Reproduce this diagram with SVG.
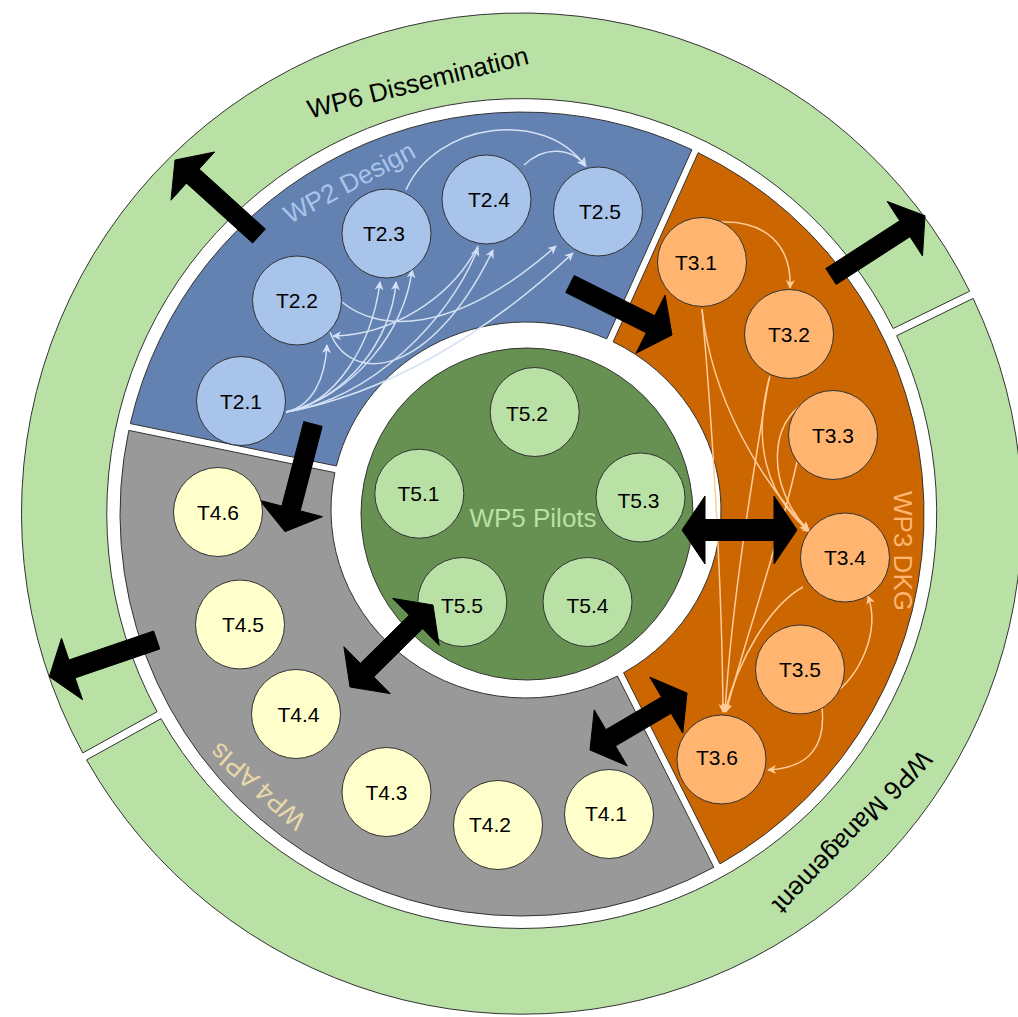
<svg xmlns="http://www.w3.org/2000/svg" width="1018" height="1017" viewBox="0 0 1018 1017">
<defs>
<style>
.ring{fill:#B9E0A5;stroke:#333;stroke-width:1}
.s2{fill:#6382B2;stroke:#333;stroke-width:1}
.s3{fill:#CC6600;stroke:#333;stroke-width:1}
.s4{fill:#999999;stroke:#333;stroke-width:1}
.s5{fill:#679152;stroke:#333;stroke-width:1}
.n2{fill:#A9C4EB;stroke:#333;stroke-width:1}
.n3{fill:#FFB570;stroke:#333;stroke-width:1}
.n4{fill:#FFFFCC;stroke:#333;stroke-width:1}
.n5{fill:#B9E0A5;stroke:#333;stroke-width:1}
text{font-family:"Liberation Sans",Arial,Helvetica,sans-serif}
.t{font-size:21px;fill:#000;text-anchor:middle}
.wp{font-size:26px;text-anchor:middle}
.c2{fill:none;stroke:#D4E1F5;stroke-width:1.5;marker-end:url(#mb)}
.c3{fill:none;stroke:#FFCC99;stroke-width:1.5;marker-end:url(#mo)}
.big{fill:#000;stroke:#000;stroke-width:1;stroke-linejoin:miter}
</style>
<marker id="mb" viewBox="0 0 10 10" refX="9" refY="5" markerWidth="10" markerHeight="9" markerUnits="userSpaceOnUse" orient="auto"><path d="M0,0 L10,5 L0,10 L3,5 Z" fill="#D4E1F5"/></marker>
<marker id="mo" viewBox="0 0 10 10" refX="9" refY="5" markerWidth="10" markerHeight="9" markerUnits="userSpaceOnUse" orient="auto"><path d="M0,0 L10,5 L0,10 L3,5 Z" fill="#FFCC99"/></marker>
</defs>
<rect width="1018" height="1017" fill="#fff"/>

<g id="wp6-dissemination">
<path class="ring" d="M 82.8 752.9 A 500 500 0 1 1 969.6 291.2 L 893.2 328.5 A 415 415 0 1 0 157.1 711.7 Z"/>
<text class="wp" fill="#000" transform="translate(420 91) rotate(-14)">WP6 Dissemination</text>
</g>
<g id="wp6-management">
<path class="ring" d="M 973.1 298.4 A 500 500 0 0 1 86.6 759.9 L 161.0 718.7 A 415 415 0 0 0 896.7 335.7 Z"/>
<text class="wp" fill="#000" transform="translate(846 826) rotate(134)">WP6 Management</text>
</g>
<g id="wp2-design">
<path class="s2" d="M 130.3 423.6 A 402 402 0 0 1 691.9 149.7 L 606.74 338.87 A 195 188 0 0 0 336.42 465.99 Z"/>
<text class="wp" fill="#A9C4EB" transform="translate(353.5 190.4) rotate(-28)">WP2 Design</text>
</g>
<g id="wp3-dkg">
<path class="s3" d="M 698.2 152.7 A 402 402 0 0 1 720.0 863.9 L 623.62 672.75 A 195 188 0 0 0 613.14 341.82 Z"/>
<text class="wp" fill="#FFB570" transform="translate(894 551) rotate(90)">WP3 DKG</text>
</g>
<g id="wp4-apis">
<path class="s4" d="M 713.8 867.3 A 402 402 0 0 1 128.8 430.4 L 334.89 472.65 A 195 188 0 0 0 617.43 676.05 Z"/>
<text class="wp" fill="#EAD8A8" transform="translate(263.5 779.5) rotate(221)">WP4 APIs</text>
</g>
<g id="wp5-pilots">
<circle class="s5" cx="527" cy="514" r="166"/>
<text class="wp" fill="#B9E0A5" x="533" y="527">WP5 Pilots</text>
</g>

<g id="connectors">
<path class="c2" d="M 406 190 C 436 122, 545 108, 585 166"/>
<path class="c2" d="M 524 165 C 545 145, 572 148, 586 166"/>
<path class="c2" d="M 286 412 C 312 406, 325 380, 327 345"/>
<path class="c2" d="M 286 412 C 335 405, 372 345, 380 282"/>
<path class="c2" d="M 286 412 C 345 400, 392 340, 396 282"/>
<path class="c2" d="M 286 412 C 355 395, 405 330, 412 270"/>
<path class="c2" d="M 286 412 C 370 400, 450 320, 478 248"/>
<path class="c2" d="M 330 332 C 350 385, 430 380, 493 250"/>
<path class="c2" d="M 286 412 C 380 395, 480 340, 573 253"/>
<path class="c2" d="M 342 302 C 375 330, 450 340, 556 246"/>
<path class="c2" d="M 478 246 C 450 300, 390 335, 333 336"/>

<path class="c3" d="M 720 222 C 765 220, 792 245, 790 288"/>
<path class="c3" d="M 702 309 C 712 400, 760 480, 809 531"/>
<path class="c3" d="M 702 309 C 712 420, 722 580, 723 712"/>
<path class="c3" d="M 770 376 C 752 440, 765 495, 810 532"/>
<path class="c3" d="M 769 378 C 752 480, 732 600, 725 712"/>
<path class="c3" d="M 806 403 C 770 420, 765 485, 808 530"/>
<path class="c3" d="M 797 462 C 780 540, 745 640, 726 712"/>
<path class="c3" d="M 803 587 C 770 605, 738 660, 725 712"/>
<path class="c3" d="M 830 697 C 862 675, 880 630, 868 596"/>
<path class="c3" d="M 822 708 C 826 745, 810 768, 768 770"/>

<polygon class="big" points="265.37,228.96 199.17,169.06 214.60,152.00 175,160 171.00,200.20 186.43,183.14 252.63,243.04"/>
<polygon class="big" points="565.75,292.50 646.28,332.77 636.00,353.34 672,335 665.06,295.20 654.78,315.77 574.25,275.50"/>
<polygon class="big" points="303.81,421.61 281.85,506.08 259.59,500.29 285,531.7 322.49,516.65 300.23,510.86 322.19,426.39"/>
<polygon class="big" points="836.16,284.48 910.01,236.71 922.50,256.02 925,215.7 887.20,201.44 899.69,220.75 825.84,268.52"/>
<polygon class="big" points="153.63,631.01 68.94,659.95 61.50,638.19 49.3,676.7 82.52,699.69 75.08,677.93 159.77,648.99"/>
</g>

<g id="T2.1"><circle class="n2" cx="241" cy="401" r="44.5"/><text class="t" x="241" y="408.5">T2.1</text></g>
<g id="T2.2"><circle class="n2" cx="297" cy="300.5" r="44.5"/><text class="t" x="297" y="308">T2.2</text></g>
<g id="T2.3"><circle class="n2" cx="386.5" cy="233.5" r="44.5"/><text class="t" x="384" y="241">T2.3</text></g>
<g id="T2.4"><circle class="n2" cx="486.5" cy="199.5" r="44.5"/><text class="t" x="489" y="207">T2.4</text></g>
<g id="T2.5"><circle class="n2" cx="598" cy="211.5" r="44.5"/><text class="t" x="600" y="219">T2.5</text></g>

<g id="T3.1"><circle class="n3" cx="702" cy="262" r="44.5"/><text class="t" x="696" y="269.5">T3.1</text></g>
<g id="T3.2"><circle class="n3" cx="789" cy="334" r="44.5"/><text class="t" x="789" y="341.5">T3.2</text></g>
<g id="T3.3"><circle class="n3" cx="833" cy="435" r="44.5"/><text class="t" x="833" y="442.5">T3.3</text></g>
<g id="T3.4"><circle class="n3" cx="845" cy="557.5" r="44.5"/><text class="t" x="845" y="565">T3.4</text></g>
<g id="T3.5"><circle class="n3" cx="800" cy="669.5" r="44.5"/><text class="t" x="800" y="677">T3.5</text></g>
<g id="T3.6"><circle class="n3" cx="721.5" cy="759.5" r="44.5"/><text class="t" x="717" y="765">T3.6</text></g>

<g id="T4.1"><circle class="n4" cx="609" cy="814" r="44.5"/><text class="t" x="606" y="821">T4.1</text></g>
<g id="T4.2"><circle class="n4" cx="498" cy="825" r="44.5"/><text class="t" x="490" y="832">T4.2</text></g>
<g id="T4.3"><circle class="n4" cx="386.5" cy="792" r="44.5"/><text class="t" x="386.5" y="799.5">T4.3</text></g>
<g id="T4.4"><circle class="n4" cx="296" cy="714" r="44.5"/><text class="t" x="298.5" y="721.5">T4.4</text></g>
<g id="T4.5"><circle class="n4" cx="240" cy="624.5" r="44.5"/><text class="t" x="243" y="632">T4.5</text></g>
<g id="T4.6"><circle class="n4" cx="218" cy="512" r="44.5"/><text class="t" x="218" y="519.5">T4.6</text></g>

<g id="T5.1"><circle class="n5" cx="419.3" cy="493.7" r="44.5"/><text class="t" x="418.5" y="501">T5.1</text></g>
<g id="T5.2"><circle class="n5" cx="534.7" cy="412" r="44.5"/><text class="t" x="527" y="421">T5.2</text></g>
<g id="T5.3"><circle class="n5" cx="640.5" cy="497.5" r="44.5"/><text class="t" x="638.5" y="508">T5.3</text></g>
<g id="T5.4"><circle class="n5" cx="587.5" cy="602" r="44.5"/><text class="t" x="587.5" y="612.5">T5.4</text></g>
<g id="T5.5"><circle class="n5" cx="462.3" cy="602" r="44.5"/><text class="t" x="462" y="612.5">T5.5</text></g>

<g id="links">
<polygon class="big" points="682,530 705,564 705,540.5 774,540.5 774,564 797,530 774,496 774,519.5 705,519.5 705,496"/>
<polygon class="big" points="350,687 390.26,693.61 373.75,676.89 422.61,628.63 439.12,645.35 433,605 392.74,598.39 409.25,615.11 360.39,663.37 343.88,646.65"/>
<polygon class="big" points="590,750 627.15,765.86 615.50,746.03 671.12,713.35 682.77,733.18 687,693 649.85,677.14 661.50,696.97 605.88,729.65 594.23,709.82"/>
</g>
</svg>
